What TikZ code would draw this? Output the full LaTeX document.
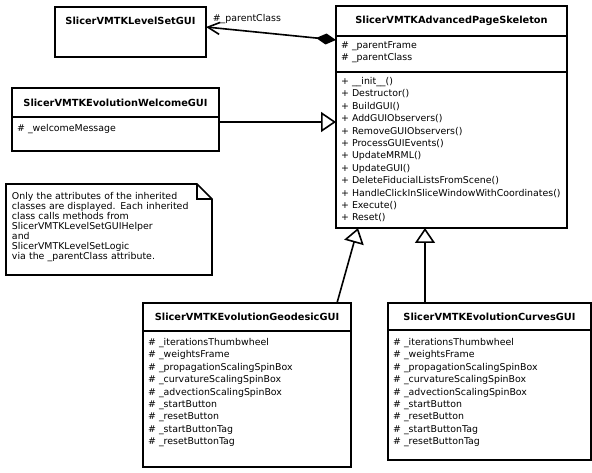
\documentclass[tikz,border=0pt]{standalone}
\usepackage{fontspec}
\setmainfont{DejaVu Sans}
\usetikzlibrary{arrows.meta,positioning}
\newcommand{\umltitle}{\bfseries\fontsize{9.8}{12}\selectfont}
\newcommand{\umltext}{\fontsize{9.4}{12.4}\selectfont\hyphenpenalty=10000\exhyphenpenalty=10000}
\newcommand{\umlnote}{\fontsize{9.4}{10}\selectfont}

\begin{document}
\begin{tikzpicture}[x=1pt,y=-1pt]
    \tikzstyle{classname}=[draw,line width=1.6pt,outer sep=0pt,inner sep=0pt,font=\umltitle,anchor=north west]
    \tikzstyle{members}=[draw,line width=1.6pt,outer sep=0pt,inner xsep=5pt,inner ysep=0pt,font=\umltext,align=left]
    \tikzstyle{inherit}=[line width=1.6pt,-{Triangle[open,length=15pt,width=20pt,fill=white]}]
    \tikzstyle{compose}=[line width=1.6pt,{Diamond[length=20pt,width=11pt]}-{Straight Barb[length=12pt,width=12pt]}]

    \useasboundingbox (0,0) rectangle (592,473);

    % base class
    \node[classname,minimum width=231pt,minimum height=30pt] at (336,6) (skel) {SlicerVMTKAdvancedPageSkeleton};
    \node[members,below=0pt of skel,text width=221pt,text height=12.5pt,text depth=23.5pt] (skelattr) {\# \_parentFrame\\\# \_parentClass};
    \node[members,below=0pt of skelattr,text width=221pt,text height=12.5pt,text depth=143.5pt] (skelmeth) {+ \_\_init\_\_()\\+ Destructor()\\+ BuildGUI()\\+ AddGUIObservers()\\+ RemoveGUIObservers()\\+ ProcessGUIEvents()\\+ UpdateMRML()\\+ UpdateGUI()\\+ DeleteFiducialListsFromScene()\\+ HandleClickInSliceWindowWithCoordinates()\\+ Execute()\\+ Reset()};

    % helper classes
    \node[classname,minimum width=151pt,text height=18pt,text depth=32pt] at (55,7) (levelset) {SlicerVMTKLevelSetGUI};
    \node[classname,minimum width=207pt,minimum height=29pt] at (12,88) (welcome) {SlicerVMTKEvolutionWelcomeGUI};
    \node[members,below=0pt of welcome,text width=197pt,text height=14.5pt,text depth=19.5pt] (welcattr) {\# \_welcomeMessage};

    % derived classes
    \node[classname,minimum width=208pt,minimum height=28pt] at (143,303) (geodesic) {SlicerVMTKEvolutionGeodesicGUI};
    \node[members,below=0pt of geodesic,text width=198pt,text height=14.5pt,text depth=121.5pt] (geoattr) {\# \_iterationsThumbwheel\\\# \_weightsFrame\\\# \_propagationScalingSpinBox\\\# \_curvatureScalingSpinBox\\\# \_advectionScalingSpinBox\\\# \_startButton\\\# \_resetButton\\\# \_startButtonTag\\\# \_resetButtonTag};
    \node[classname,minimum width=203pt,minimum height=27pt] at (388,303) (curves) {SlicerVMTKEvolutionCurvesGUI};
    \node[members,below=0pt of curves,text width=193pt,text height=15.5pt,text depth=114.5pt] (curvattr) {\# \_iterationsThumbwheel\\\# \_weightsFrame\\\# \_propagationScalingSpinBox\\\# \_curvatureScalingSpinBox\\\# \_advectionScalingSpinBox\\\# \_startButton\\\# \_resetButton\\\# \_startButtonTag\\\# \_resetButtonTag};

    % note
    \node[anchor=north west,outer sep=0pt,inner xsep=6pt,inner ysep=0pt,text width=194pt,text height=15.5pt,text depth=75.5pt,font=\umlnote,align=left] at (6,184) (note) {Only the attributes of the inherited\\classes are displayed. Each inherited\\class calls methods from\\SlicerVMTKLevelSetGUIHelper\\and\\SlicerVMTKLevelSetLogic\\via the \_parentClass attribute.};
    \draw[line width=1.6pt] (note.north west) -- ([xshift=-15pt]note.north east) -- ([yshift=-15pt]note.north east) -- (note.south east) -- (note.south west) -- cycle;
    \draw[line width=1.6pt] ([xshift=-15pt]note.north east) -- ([xshift=-15pt,yshift=-15pt]note.north east) -- ([yshift=-15pt]note.north east);

    % relations
    \draw[compose] ([yshift=-4pt]skelattr.north west) -- ([yshift=5pt]levelset.east) node[at end,anchor=south west,font=\umltext,inner sep=1pt,xshift=5pt,yshift=1pt] (parentlbl) {\#\_parentClass};
    \coordinate (welcout) at ([yshift=-5pt]welcattr.north east);
    \draw[inherit] (welcout) -- (welcout -| skelmeth.west);
    \draw[inherit] ([xshift=-14pt]geodesic.north east) -- ([xshift=22pt]skelmeth.south west);
    \coordinate (curvout) at ([xshift=37pt]curves.north west);
    \draw[inherit] (curvout) -- (curvout |- skelmeth.south);
\end{tikzpicture}
\end{document}
